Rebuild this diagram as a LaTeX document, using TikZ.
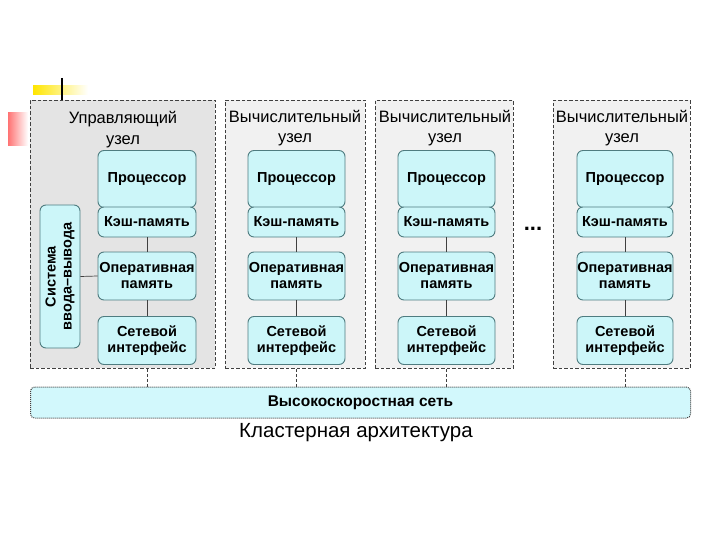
\documentclass[tikz,border=0pt]{standalone}
\usepackage{fontspec}
\setmainfont{Liberation Sans}
\usetikzlibrary{positioning}
\definecolor{cellfill}{HTML}{CCF6F9}
\definecolor{cellline}{HTML}{4F7C80}
\definecolor{netfill}{HTML}{D2F8FC}
\definecolor{boxgray}{HTML}{E4E4E4}
\definecolor{boxlight}{HTML}{F1F1F1}
\definecolor{boxline}{HTML}{404040}
\tikzset{
  cell/.style={draw=cellline, fill=cellfill, line width=0.9pt, rounded corners=6pt,
    align=center, font=\bfseries\fontsize{14.5}{16}\selectfont, inner sep=0pt},
  nodebox/.style={draw=boxline, dash pattern=on 3.5pt off 2pt, line width=0.9pt},
  titletext/.style={align=center, font=\fontsize{16.5}{20.5}\selectfont, inner sep=0pt},
  link/.style={draw=boxline, line width=0.7pt},
  netlink/.style={draw=boxline, dash pattern=on 3pt off 2pt, line width=0.7pt},
}
\begin{document}
\begin{tikzpicture}[x=1pt,y=-1pt]
\useasboundingbox (0,0) rectangle (720,540);
\fill[white] (0,0) rectangle (720,540);
% slide decorations
\shade[left color=yellow!80!orange, right color=white] (33,86) rectangle (88,95);
\draw[black, line width=2pt] (62,78) -- (62,101);
\shade[left color=red!55, right color=white] (8,113) rectangle (28,146);
% node boxes
\node[nodebox, fill=boxgray, minimum width=185pt, minimum height=268pt, anchor=north west, inner sep=0pt] (box1) at (30,100) {};
\node[nodebox, fill=boxlight, minimum width=140pt, minimum height=268pt, anchor=north west, inner sep=0pt] (box2) at (225,100) {};
\node[nodebox, fill=boxlight, minimum width=138pt, minimum height=268pt, anchor=north west, inner sep=0pt] (box3) at (375,100) {};
\node[nodebox, fill=boxlight, minimum width=137pt, minimum height=268pt, anchor=north west, inner sep=0pt] (box4) at (553,100) {};
% titles
\node[titletext] (t1) at (123,129.5) {Управляющий\\узел};
\node[titletext] (t2) at (295,128) {Вычислительный\\узел};
\node[titletext] (t3) at (445,128) {Вычислительный\\узел};
\node[titletext] (t4) at (622,128) {Вычислительный\\узел};
% columns
\foreach \i/\cx/\w in {1/147/98, 2/296.5/97, 3/446.5/97, 4/625/96} {
  \node[cell, minimum width=\w pt, minimum height=57pt] (p\i) at (\cx,179) {Процессор};
  \node[cell, minimum width=\w pt, minimum height=30pt] (c\i) at (\cx,222) {Кэш-память};
  \node[cell, minimum width=\w pt, minimum height=48pt] (m\i) at (\cx,276) {Оперативная\\память};
  \node[cell, minimum width=\w pt, minimum height=48pt] (n\i) at (\cx,340.5) {Сетевой\\интерфейс};
  \draw[link] (c\i.south) -- (m\i.north);
  \draw[link] (m\i.south) -- (n\i.north);
}
% I/O system
\node[cell, minimum width=40pt, minimum height=143pt] (io) at (60,276.5) {};
\node[rotate=90, align=center, font=\bfseries\fontsize{14.5}{16}\selectfont] (iot) at (io.center) {Система\\ввода–вывода};
\draw[link] (io.east) -- (m1.west);
% dots
\node[font=\bfseries\fontsize{22}{22}\selectfont, inner sep=0pt] (dots) at (533,229) {...};
% network
\node[draw=boxline, densely dotted, line width=1pt, fill=netfill, rounded corners=4pt,
  minimum width=660pt, minimum height=31pt, anchor=north west, inner sep=0pt,
  font=\bfseries\fontsize{15.5}{17}\selectfont] (net) at (30,386.5) {Высокоскоростная сеть};
\foreach \i in {1,2,3,4} {
  \draw[netlink] (n\i.south |- box\i.south) -- (n\i.south |- net.north);
}
% caption
\node[font=\fontsize{20.5}{24}\selectfont, inner sep=0pt] (cap) at (356,433) {Кластерная архитектура};
\end{tikzpicture}
\end{document}
